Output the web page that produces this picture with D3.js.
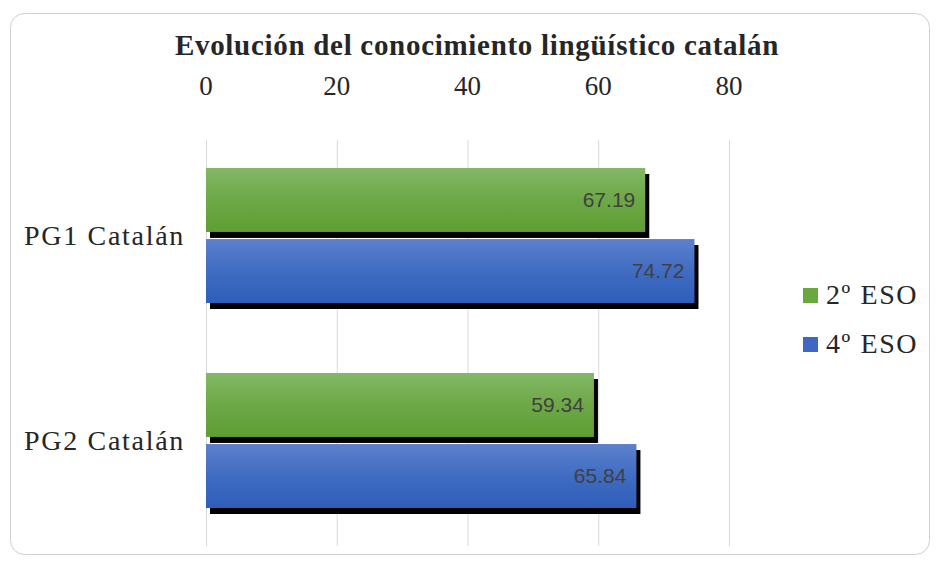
<!DOCTYPE html>
<html>
<head>
<meta charset="utf-8">
<script src="https://cdn.jsdelivr.net/npm/d3@7"></script>
<style>
  body { margin: 0; background: #fff; }
  svg { display: block; }
</style>
</head>
<body>
<svg id="chart"></svg>
<script>
const categories = ["PG1 Catalán", "PG2 Catalán"];
const seriesNames = ["2º ESO", "4º ESO"];
const values2ESO = [67.19, 59.34];
const values4ESO = [74.72, 65.84];
const ticks = [0, 20, 40, 60, 80];

const width = 936, height = 561;
const svg = d3.select("#chart").attr("width", width).attr("height", height);

const margin = { top: 133, left: 206, bottom: 18 };
const plotH = 410;
const serif = "'Liberation Serif', 'Times New Roman', serif";

// chart frame
svg.append("rect")
  .attr("x", 10.5).attr("y", 13.5)
  .attr("width", 919).attr("height", 541)
  .attr("rx", 14)
  .attr("fill", "#fff")
  .attr("stroke", "#d0d0d0");

const defs = svg.append("defs");
function grad(id, top, bottom) {
  const g = defs.append("linearGradient").attr("id", id)
    .attr("x1", 0).attr("y1", 0).attr("x2", 0).attr("y2", 1);
  g.append("stop").attr("offset", "0%").attr("stop-color", top);
  g.append("stop").attr("offset", "50%").attr("stop-color", d3.interpolateRgb(top, bottom)(0.6));
  g.append("stop").attr("offset", "100%").attr("stop-color", bottom);
}
grad("gGreen", "#83b866", "#5e9e32");
grad("gBlue", "#5c80cc", "#2e5eba");

const x = d3.scaleLinear().domain([0, 80]).range([margin.left, 729]);
const y = d3.scaleBand().domain(categories)
  .range([margin.top, margin.top + plotH]);
const inner = d3.scaleBand().domain(seriesNames)
  .range([35, 170]).paddingInner(0.1);

// gridlines
svg.append("g")
  .selectAll("line")
  .data(ticks)
  .join("line")
  .attr("x1", d => x(d) + 0.5).attr("x2", d => x(d) + 0.5)
  .attr("y1", 140).attr("y2", 546)
  .attr("stroke", "#d9d9d9");

// axis labels on top
svg.append("g")
  .selectAll("text")
  .data(ticks)
  .join("text")
  .attr("x", d => x(d))
  .attr("y", 95)
  .attr("text-anchor", "middle")
  .style("font", `27px ${serif}`)
  .attr("fill", "#262626")
  .text(d => d);

// title
svg.append("text")
  .attr("x", 477).attr("y", 55)
  .attr("text-anchor", "middle")
  .style("font", `bold 29px ${serif}`)
  .style("letter-spacing", "0.7px")
  .attr("fill", "#262626")
  .text("Evolución del conocimiento lingüístico catalán");

const rows = [];
categories.forEach((c, i) => {
  rows.push({ cat: c, s: seriesNames[0], v: values2ESO[i], fill: "url(#gGreen)" });
  rows.push({ cat: c, s: seriesNames[1], v: values4ESO[i], fill: "url(#gBlue)" });
});

const bars = svg.append("g");
// shadow
bars.selectAll("rect.shadow")
  .data(rows)
  .join("rect")
  .attr("class", "shadow")
  .attr("x", x(0) + 4)
  .attr("y", d => y(d.cat) + inner(d.s) + 6)
  .attr("width", d => x(d.v) - x(0))
  .attr("height", inner.bandwidth())
  .attr("fill", "#000");

bars.selectAll("rect.bar")
  .data(rows)
  .join("rect")
  .attr("class", "bar")
  .attr("x", x(0))
  .attr("y", d => y(d.cat) + inner(d.s))
  .attr("width", d => x(d.v) - x(0))
  .attr("height", inner.bandwidth())
  .attr("fill", d => d.fill);

bars.selectAll("text")
  .data(rows)
  .join("text")
  .attr("x", d => x(d.v) - 10)
  .attr("y", d => y(d.cat) + inner(d.s) + inner.bandwidth() / 2)
  .attr("dy", "0.35em")
  .attr("text-anchor", "end")
  .style("font", "21px 'Liberation Sans', sans-serif")
  .attr("fill", "#404040")
  .text(d => d3.format(".2f")(d.v));

// category labels
svg.append("g")
  .selectAll("text")
  .data(categories)
  .join("text")
  .attr("x", 185)
  .attr("y", d => y(d) + y.bandwidth() / 2 + 9)
  .attr("text-anchor", "end")
  .style("font", `28px ${serif}`)
  .style("letter-spacing", "1.7px")
  .attr("fill", "#262626")
  .text(d => d);

// legend
const legendColors = ["#6aa83f", "#3e68c4"];
const leg = svg.append("g")
  .selectAll("g")
  .data(seriesNames)
  .join("g")
  .attr("transform", (d, i) => `translate(803, ${288 + i * 49})`);
leg.append("rect")
  .attr("width", 15).attr("height", 15)
  .attr("fill", (d, i) => legendColors[i]);
leg.append("text")
  .attr("x", 23).attr("y", 16)
  .style("font", `28px ${serif}`)
  .style("letter-spacing", "1.6px")
  .attr("fill", "#262626")
  .text(d => d);
</script>
</body>
</html>
